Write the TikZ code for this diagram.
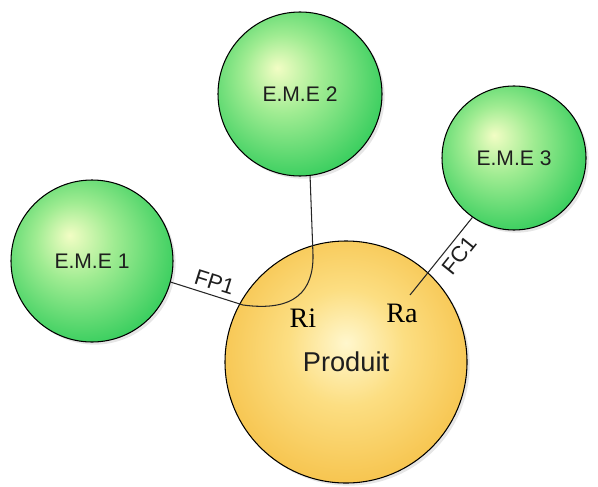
\documentclass[tikz,border=0pt]{standalone}
\usepackage{fontspec}
\setmainfont{Liberation Sans}
\newfontfamily\timesfont{Liberation Serif}
\usetikzlibrary{shadows}

\definecolor{vertfonce}{RGB}{36,200,84}
\definecolor{vertmoyen}{RGB}{160,236,146}
\definecolor{vertclair}{RGB}{242,253,196}
\definecolor{jaunefonce}{RGB}{245,190,66}
\definecolor{jaunemoyen}{RGB}{252,222,130}
\definecolor{jauneclair}{RGB}{255,247,205}
\definecolor{texte}{RGB}{30,30,30}

\pgfdeclareradialshading{boulevert}{\pgfpoint{-7bp}{8bp}}{color(0bp)=(vertclair); color(12bp)=(vertmoyen); color(33bp)=(vertfonce); color(50bp)=(vertfonce)}
\pgfdeclareradialshading{boulejaune}{\pgfpoint{0bp}{4bp}}{color(0bp)=(jauneclair); color(12bp)=(jaunemoyen); color(31bp)=(jaunefonce); color(50bp)=(jaunefonce)}

\tikzset{
  eme/.style={circle, draw=black, line width=0.6pt, shading=boulevert, minimum size=#1, inner sep=0pt,
    text=texte, font=\fontsize{12}{14}\selectfont,
    drop shadow={shadow xshift=1.5pt, shadow yshift=-1.5pt, opacity=0.2}},
  produit/.style={circle, draw=black, line width=0.6pt, shading=boulejaune, minimum size=#1, inner sep=0pt,
    text=texte, font=\fontsize{15.5}{18}\selectfont,
    drop shadow={shadow xshift=1.5pt, shadow yshift=-1.5pt, opacity=0.2}},
  lien/.style={draw=black!85, line width=0.6pt},
  etiq/.style={text=texte, font=\fontsize{12.5}{14}\selectfont, inner sep=3pt},
  repere/.style={font=\timesfont\fontsize{16}{18}\selectfont}
}

\begin{document}
\begin{tikzpicture}
\useasboundingbox (0,0) rectangle (11.96,9.72);
\node[eme=3.24cm] (eme1) at (1.84,4.5) {E.M.E 1}; % cercle E.M.E 1
\node[eme=3.28cm] (eme2) at (6.0,7.84) {E.M.E 2}; % cercle E.M.E 2
\node[eme=2.88cm] (eme3) at (10.28,6.56) {E.M.E 3}; % cercle E.M.E 3
\node[produit=4.84cm] (prod) at (6.92,2.48) {Produit}; % cercle Produit
\coordinate (fp1coude) at (4.86,3.62); % coude de FP1
\coordinate (fp1haut) at (6.26,4.62); % remontee vers E.M.E 2
\coordinate (fc1bout) at (8.2,3.82); % bout de FC1 dans Produit
\draw[lien] (eme1.-15) -- (fp1coude) node[pos=0.55, sloped, above, etiq] {FP1}
  .. controls (5.9,3.48) and (6.27,3.9) .. (fp1haut) -- (eme2.-83); % FP1
\draw[lien] (eme3.-125) -- (fc1bout) node[pos=0.38, sloped, below, etiq] {FC1}; % FC1
\node[repere] (ri) at (6.06,3.36) {Ri}; % etiquette Ri
\node[repere] (ra) at (8.04,3.46) {Ra}; % etiquette Ra
\end{tikzpicture}
\end{document}
